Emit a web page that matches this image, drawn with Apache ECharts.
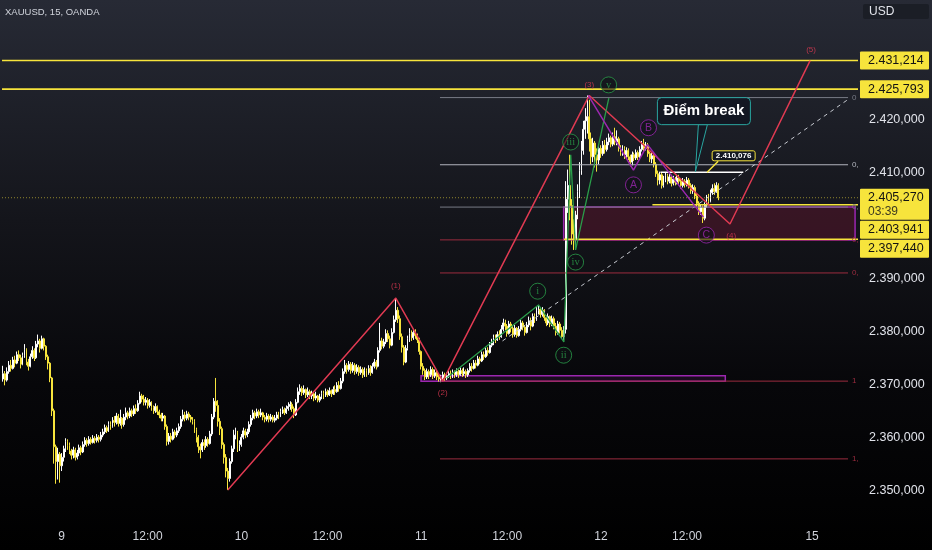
<!DOCTYPE html>
<html>
<head>
<meta charset="utf-8">
<title>XAUUSD, 15, OANDA</title>
<script src="https://cdn.jsdelivr.net/npm/echarts/dist/echarts.min.js"></script>
<style>
    html, body { margin: 0; padding: 0; background: #000; }
    #chart {
        width: 932px;
        height: 550px;
        background: linear-gradient(to bottom, #272a35 0%, #14151b 40%, #07070a 70%, #000 100%);
    }
</style>
</head>
<body>
<div id="chart"></div>
<script>
const FONT = '"Liberation Sans", "DejaVu Sans", Arial, sans-serif';

// 15 phút, múi giờ UTC+7: [ngày, phút bắt đầu, phút kết thúc]
const sessions = [[8, 990, 1440], [9, 0, 1440], [10, 0, 1440], [11, 0, 1440], [12, 0, 1680], [15, 300, 660]];

// mỗi nến: [close, low, high], open = close nến trước
const firstOpen = 2371.0;
const day8 = [
    [2372.0,2370.5,2373.5],[2370.8,2369.8,2372.5],[2372.4,2370.5,2373.2],[2373.6,2372.0,2374.4],[2373.0,2372.4,2374.6],[2374.6,2372.8,2375.2],[2374.0,2373.2,2375.4],[2375.6,2373.8,2376.2],[2375.0,2374.4,2376.4],[2373.8,2373.0,2375.6],
    [2375.4,2373.6,2376.0],[2376.6,2375.0,2377.6],[2374.2,2373.6,2376.8],[2373.4,2372.6,2374.8],[2375.2,2373.2,2375.8],[2376.4,2374.8,2377.2],[2375.0,2374.4,2376.8],[2377.6,2374.8,2378.2],[2378.2,2377.0,2379.4],[2376.8,2376.0,2378.6],
    [2378.6,2376.6,2379.2],[2377.2,2376.4,2378.8],[2375.2,2374.6,2377.4],[2374.0,2372.8,2375.6],[2371.2,2370.4,2374.2],[2365.0,2364.0,2371.4],[2358.2,2355.0,2365.4],[2355.4,2351.2,2358.6],[2356.8,2352.0,2358.0],[2354.6,2351.4,2357.2]
];
const day9 = [
    [2356.2,2353.6,2357.0],[2357.8,2355.4,2358.4],[2359.2,2357.2,2359.8],[2358.4,2357.6,2359.6],[2357.4,2356.8,2359.0],[2356.6,2355.8,2357.8],[2357.6,2356.0,2358.2],[2356.2,2355.6,2358.0],[2357.0,2355.8,2357.6],[2358.0,2356.4,2358.6],
    [2357.2,2356.6,2358.4],[2358.6,2357.0,2359.2],[2359.4,2358.2,2360.0],[2358.8,2358.2,2359.8],[2359.6,2358.4,2360.2],[2359.0,2358.6,2360.0],[2359.8,2358.8,2360.4],[2359.4,2358.8,2360.2],[2360.0,2359.0,2360.6],[2359.6,2359.0,2360.4],
    [2360.4,2359.2,2361.0],[2361.0,2360.0,2361.6],[2361.8,2360.6,2362.4],[2361.2,2360.8,2362.2],[2362.4,2361.0,2363.0],[2362.0,2361.4,2363.0],[2363.2,2361.8,2363.8],[2362.8,2362.0,2364.0],[2364.0,2362.4,2364.6],[2362.6,2362.0,2364.4],
    [2363.6,2362.2,2365.2],[2362.4,2361.6,2363.8],[2363.8,2362.0,2364.4],[2364.6,2363.2,2365.6],[2364.0,2363.4,2365.0],[2365.0,2363.6,2365.6],[2364.4,2363.8,2365.4],[2365.4,2364.0,2366.0],[2365.0,2364.4,2366.2],[2366.4,2364.8,2367.0],
    [2367.8,2366.2,2368.6],[2367.2,2366.6,2368.2],[2366.6,2366.0,2368.0],[2367.0,2366.0,2367.6],[2366.0,2365.4,2367.4],[2366.6,2365.6,2367.2],[2365.6,2365.0,2366.8],[2365.0,2364.4,2366.0],[2365.8,2364.6,2366.4],[2364.8,2364.2,2366.0],
    [2364.2,2363.6,2365.2],[2363.6,2363.0,2364.6],[2364.0,2363.0,2364.6],[2362.0,2361.4,2364.2],[2359.2,2358.4,2362.4],[2360.2,2358.6,2360.8],[2359.6,2359.0,2360.8],[2361.0,2359.4,2361.6],[2360.4,2359.8,2361.4],[2361.2,2360.0,2361.8],
    [2362.0,2360.8,2362.6],[2363.4,2361.6,2364.0],[2364.2,2363.0,2365.2],[2363.6,2363.0,2364.8],[2364.4,2363.2,2365.0],[2363.8,2363.2,2364.8],[2363.4,2362.8,2364.2],[2363.0,2362.4,2363.8],[2361.4,2360.8,2363.4],[2360.0,2359.0,2361.8],
    [2358.2,2357.0,2360.4],[2357.6,2356.0,2358.8],[2359.0,2357.2,2359.6],[2358.4,2357.6,2359.6],[2359.6,2358.0,2360.2],[2358.8,2358.2,2360.0],[2360.6,2358.6,2361.2],[2363.8,2360.2,2364.4],[2366.8,2363.4,2367.4],[2366.0,2364.8,2371.2],
    [2363.0,2362.0,2367.0],[2361.6,2360.4,2363.6],[2358.6,2357.8,2362.0],[2356.2,2355.0,2359.0],[2353.6,2352.4,2356.8],[2352.2,2350.0,2354.2],[2355.4,2351.6,2356.0],[2357.8,2355.0,2358.4],[2360.4,2357.2,2361.4],[2360.8,2359.6,2361.8],
    [2357.8,2357.2,2361.2],[2358.6,2357.4,2359.4]
];
const day10 = [
    [2360.0,2358.2,2360.6],[2361.2,2359.6,2361.8],[2360.4,2359.8,2361.6],[2361.0,2360.0,2361.6],[2362.4,2360.6,2363.0],[2363.6,2362.0,2364.2],[2364.6,2363.2,2365.2],[2364.0,2363.4,2365.0],[2364.8,2363.6,2365.4],[2364.2,2363.6,2365.2],
    [2364.6,2363.8,2365.4],[2363.8,2363.2,2364.8],[2363.4,2362.8,2364.2],[2364.0,2363.0,2364.6],[2363.4,2362.8,2364.4],[2363.8,2363.0,2364.4],[2363.2,2362.8,2364.2],[2363.6,2362.8,2364.2],[2364.2,2363.2,2364.8],[2364.0,2363.4,2364.8],
    [2364.8,2363.8,2365.4],[2365.2,2364.4,2365.8],[2364.6,2364.2,2365.6],[2365.4,2364.4,2366.0],[2365.8,2365.0,2366.6],[2366.2,2365.2,2366.8],[2365.4,2364.8,2366.6],[2364.2,2363.6,2365.8],[2366.6,2364.0,2367.2],[2368.6,2366.4,2369.4],
    [2369.2,2368.0,2370.0],[2368.4,2367.8,2369.6],[2369.0,2368.0,2369.8],[2368.0,2367.4,2369.2],[2368.6,2367.6,2369.4],[2367.8,2367.2,2369.0],[2368.2,2367.2,2368.8],[2367.4,2366.8,2368.4],[2367.8,2367.0,2368.6],[2367.0,2366.6,2368.0],
    [2367.6,2366.6,2368.2],[2368.2,2367.2,2368.8],[2367.8,2367.2,2368.8],[2368.6,2367.6,2369.2],[2368.0,2367.6,2369.0],[2368.8,2367.8,2369.4],[2368.2,2367.6,2369.0],[2369.0,2368.0,2369.6],[2368.6,2368.0,2369.8],[2369.8,2368.4,2370.4],
    [2369.2,2368.6,2370.6],[2370.6,2369.0,2371.2],[2372.4,2370.2,2373.0],[2373.6,2372.0,2374.6],[2372.8,2372.0,2374.0],[2373.8,2372.4,2374.4],[2372.6,2372.0,2374.2],[2373.6,2372.2,2374.2],[2372.4,2371.8,2374.0],[2373.2,2372.0,2373.8],
    [2372.2,2371.6,2373.6],[2372.8,2371.8,2373.4],[2371.8,2371.2,2373.2],[2372.6,2371.4,2373.2],[2372.0,2371.4,2373.0],[2373.0,2371.8,2373.6],[2372.2,2371.6,2373.6],[2373.4,2372.0,2374.0],[2374.2,2373.0,2374.8],[2373.4,2372.8,2374.6],
    [2376.4,2373.2,2377.0],[2378.2,2376.0,2381.6],[2377.2,2376.6,2378.8],[2378.0,2376.8,2378.6],[2379.6,2377.6,2380.4],[2378.6,2378.0,2380.2],[2377.4,2376.8,2379.2],[2379.8,2377.2,2380.6],[2382.2,2379.6,2383.0],[2384.0,2381.8,2386.3],
    [2382.4,2381.6,2384.6],[2379.0,2378.4,2383.0],[2377.0,2376.0,2379.6],[2374.2,2373.6,2377.4],[2376.8,2374.0,2377.4],[2378.6,2376.4,2379.2],[2379.6,2378.0,2380.6],[2378.8,2378.2,2380.2],[2379.8,2378.4,2380.4],[2379.2,2378.6,2380.4],
    [2378.4,2377.8,2379.6],[2376.2,2375.6,2378.8]
];
const day11 = [
    [2373.4,2372.8,2376.4],[2372.6,2371.8,2374.0],[2371.4,2370.8,2373.0],[2372.4,2371.0,2373.0],[2371.8,2371.0,2372.8],[2372.8,2371.4,2373.4],[2371.6,2371.0,2373.2],[2372.2,2371.2,2372.8],[2371.4,2370.8,2372.6],[2371.0,2370.5,2372.0],
    [2371.2,2370.4,2371.8],[2371.8,2370.6,2372.4],[2371.2,2370.6,2372.2],[2371.6,2370.8,2372.2],[2372.0,2371.2,2372.6],[2371.6,2371.0,2372.6],[2372.2,2371.2,2372.8],[2371.8,2371.2,2372.6],[2372.4,2371.4,2373.0],[2371.8,2371.2,2372.8],
    [2372.6,2371.6,2373.2],[2372.0,2371.4,2373.0],[2372.4,2371.6,2373.2],[2371.8,2371.2,2372.8],[2372.6,2371.4,2373.0],[2373.4,2372.2,2374.0],[2373.0,2372.4,2374.0],[2374.0,2372.8,2374.6],[2373.6,2373.0,2374.6],[2374.8,2373.4,2375.4],
    [2374.4,2373.8,2375.2],[2375.6,2374.2,2376.2],[2375.2,2374.6,2376.2],[2376.4,2375.0,2377.0],[2376.0,2375.4,2377.0],[2377.4,2375.8,2378.0],[2377.8,2377.0,2378.6],[2378.8,2377.4,2379.4],[2378.4,2377.8,2379.4],[2379.4,2378.2,2380.0],
    [2379.0,2378.4,2380.2],[2380.4,2378.8,2381.2],[2381.6,2380.0,2382.4],[2381.0,2380.2,2382.2],[2379.6,2379.0,2381.4],[2381.4,2379.4,2382.0],[2380.6,2379.8,2381.8],[2379.4,2378.8,2381.0],[2380.6,2379.0,2381.2],[2379.2,2378.8,2380.8],
    [2380.4,2379.0,2381.0],[2381.6,2380.0,2382.2],[2380.8,2380.2,2382.0],[2379.8,2379.2,2381.2],[2381.2,2379.6,2381.8],[2382.0,2380.8,2382.8],[2381.0,2380.2,2382.6],[2382.8,2380.8,2383.4],[2382.2,2381.6,2383.4],[2384.0,2382.0,2384.6],
    [2384.2,2383.2,2385.0],[2383.2,2382.6,2384.6],[2384.0,2382.8,2384.6],[2382.6,2382.0,2384.2],[2381.6,2381.0,2383.0],[2382.8,2381.2,2383.4],[2381.4,2380.8,2383.0],[2382.4,2381.0,2383.0],[2381.0,2380.4,2382.8],[2379.8,2379.2,2381.6],
    [2381.4,2379.4,2382.0],[2380.2,2379.6,2381.8],[2379.0,2378.6,2380.8],[2380.4,2378.0,2381.0],[2405.0,2379.6,2408.4],[2407.6,2402.4,2410.6],[2403.8,2401.0,2413.4],[2398.4,2396.4,2405.0],[2397.4,2395.4,2401.2],[2402.0,2396.2,2402.8],
    [2406.4,2401.2,2407.8],[2410.4,2405.2,2412.0],[2414.2,2409.6,2416.0],[2418.2,2413.4,2419.8],[2419.8,2416.4,2422.2],[2420.6,2417.4,2424.6],[2416.4,2414.0,2423.8],[2413.0,2411.6,2417.6],[2415.6,2412.0,2416.6],[2413.4,2411.0,2416.0],
    [2412.4,2410.2,2414.6],[2414.6,2411.6,2415.4]
];
const day12 = [
    [2413.6,2412.8,2415.2],[2415.2,2413.2,2416.0],[2414.4,2413.6,2416.2],[2415.8,2414.0,2416.6],[2416.6,2415.2,2417.4],[2415.4,2414.8,2417.0],[2416.8,2415.0,2417.6],[2415.8,2415.2,2418.5],[2416.4,2415.2,2418.0],[2414.6,2414.0,2416.8],
    [2413.8,2413.2,2415.2],[2414.6,2413.2,2415.2],[2413.4,2412.6,2415.0],[2414.2,2412.8,2414.8],[2413.0,2412.4,2414.6],[2412.0,2411.2,2413.4],[2413.4,2411.4,2414.0],[2412.8,2412.2,2413.8],[2413.8,2412.4,2414.4],[2413.0,2412.4,2414.2],
    [2414.4,2412.8,2415.0],[2415.4,2414.0,2416.0],[2414.6,2414.0,2416.4],[2415.2,2414.2,2415.8],[2413.6,2413.0,2415.6],[2412.6,2412.0,2414.0],[2413.2,2411.8,2413.8],[2411.6,2411.0,2413.6],[2409.8,2409.2,2412.0],[2408.6,2407.6,2410.4],
    [2409.6,2407.8,2410.2],[2407.6,2407.0,2410.0],[2408.8,2407.2,2409.4],[2409.4,2408.2,2410.0],[2408.4,2407.8,2409.8],[2409.2,2408.0,2409.8],[2408.0,2407.4,2409.6],[2408.8,2407.6,2409.4],[2408.2,2407.6,2409.2],[2409.0,2407.8,2409.6],
    [2408.4,2407.8,2409.6],[2407.6,2407.0,2408.8],[2408.4,2407.2,2409.0],[2407.8,2407.2,2408.8],[2408.6,2407.4,2409.2],[2407.6,2407.0,2409.0],[2406.6,2406.0,2408.0],[2407.2,2406.0,2407.8],[2405.6,2405.0,2407.6],[2404.2,2403.6,2406.0],
    [2402.6,2402.0,2404.6],[2403.4,2402.0,2404.0],[2401.4,2400.5,2403.8],[2403.8,2401.0,2404.4],[2405.2,2403.4,2405.8],[2404.6,2404.0,2406.0],[2406.2,2404.4,2406.8],[2407.0,2405.8,2407.8],[2406.4,2405.8,2408.0],[2407.6,2406.2,2408.2],
    [2405.27,2404.8,2408.0]
];

// các mức giá trên trục phải
const yellowLevels = [2431.214, 2425.793];
const zoneLevels = [2403.941, 2397.44];
const lastPrice = 2405.27;
const countdown = '03:39';
const breakLevel = 2410.076;

// fibo: [giá, nhãn, màu]
const fibLevels = [
    [2424.2, '0', '#787b86'],
    [2411.5, '0,', '#b2b5be'],
    [2403.5, '0,', '#787b86'],
    [2397.3, '0,', '#9b2c3f'],
    [2391.05, '0,', '#9b2c3f'],
    [2370.6, '1', '#9b2c3f'],
    [2355.9, '1,', '#9b2c3f']
];
const fibRange = [223.6, 432.4];

// sóng Elliott, toạ độ [chỉ số nến, giá]
const waveMain = [[115, 2350.0], [201, 2386.3], [225, 2370.6], [300, 2424.6], [372, 2400.3], [413, 2431.2]];
const waveMainText = [['(1)', 201, 2388.6], ['(2)', 225, 2368.3], ['(3)', 300, 2426.7], ['(4)', 372.6, 2398.0], ['(5)', 413.5, 2433.3]];
const waveSub = [[227, 2371.2], [274, 2385.0], [287, 2378.0], [290.5, 2413.4], [293, 2395.4], [310, 2424.1]];
const waveSubText = [['i', 273.6, 2387.6], ['ii', 286.9, 2375.5], ['iii', 290.5, 2415.8], ['iv', 293, 2393.1], ['v', 309.9, 2426.6]];
const waveAbc = [[299.5, 2424.6], [322.6, 2410.5], [329.8, 2415.3], [358.4, 2401.6]];
const waveAbcText = [['A', 322.6, 2407.7], ['B', 330.3, 2418.5], ['C', 359.9, 2398.2]];
const trendDash = [[255.6, 2378.2], [433.4, 2424.1]];
const zoneBox = [286.9, 436, 2397.3, 2403.5];
const baseBox = [213.9, 369.6, 2370.6, 2371.6];
const breakSpan = [336.4, 378.8];
const breakNote = ['Điểm break', 354.3, 2410.2];
const breakTag = [360.3, breakLevel];

// trục thời gian
const times = [];
const tickText = {};
sessions.forEach(function (s, k) {
    for (let m = s[1]; m < s[2]; m += 15) {
        const mm = m % 1440;
        if (m < 1440 && mm >= 240 && mm < 300) continue;
        const key = s[0] + ' ' + m;
        if (m === s[1] && k > 0) {
            tickText[key] = String(s[0]);
        } else if (m === 720) {
            tickText[key] = '12:00';
        }
        times.push(key);
    }
});

const bars = [].concat(day8, day9, day10, day11, day12);
let prevClose = firstOpen;
const ohlc = bars.map(function (b) {
    const o = prevClose;
    prevClose = b[0];
    return [o, b[0], Math.min(b[1], o, b[0]), Math.max(b[2], o, b[0])];
});

function fmtPrice(p) {
    const s = p.toFixed(3).split('.');
    return s[0].slice(0, 1) + '.' + s[0].slice(1) + ',' + s[1];
}

const xEnd = times.length - 0.5;
const YELLOW = '#f7e43c';
const RED = '#e03a52';
const GREEN = '#2a9d4a';
const PURPLE = '#9c27b0';

function seg(data, color, width, type, z) {
    return {
        type: 'line',
        xAxisIndex: 1,
        yAxisIndex: 0,
        data: data,
        symbol: 'none',
        silent: true,
        z: z || 3,
        lineStyle: {color: color, width: width, type: type || 'solid'}
    };
}

function textMarks(list, color, ring, family) {
    return {
        type: 'scatter',
        xAxisIndex: 1,
        yAxisIndex: 0,
        silent: true,
        z: 5,
        symbol: 'circle',
        symbolSize: ring ? 16 : 1,
        itemStyle: ring ? {color: 'rgba(15,16,22,0.75)', borderColor: color, borderWidth: 1} : {color: 'rgba(0,0,0,0)'},
        label: {
            show: true, position: 'inside', formatter: '{b}', color: color,
            fontSize: ring ? 10.5 : 8, fontFamily: family || FONT
        },
        data: list.map(function (t) {
            return {name: t[0], value: [t[1], t[2]]};
        })
    };
}

const series = [{
    type: 'candlestick',
    xAxisIndex: 0,
    yAxisIndex: 0,
    data: ohlc,
    barWidth: '70%',
    z: 2,
    itemStyle: {
        color: '#ffffff',
        color0: YELLOW,
        borderColor: '#ffffff',
        borderColor0: YELLOW,
        borderWidth: 1
    }
}];

// đường xu hướng nét đứt
series.push(seg(trendDash, '#c8cbd2', 1, [4, 4]));

// hai hộp vùng giá
series.push({
    type: 'line',
    xAxisIndex: 1,
    yAxisIndex: 0,
    data: [],
    silent: true,
    markArea: {
        silent: true,
        data: [
            [{coord: [zoneBox[0], zoneBox[3]], itemStyle: {color: 'rgba(105,22,48,0.42)', borderColor: PURPLE, borderWidth: 1.5}},
                {coord: [zoneBox[1], zoneBox[2]]}],
            [{coord: [baseBox[0], baseBox[3]], itemStyle: {color: 'rgba(156,39,176,0.12)', borderColor: PURPLE, borderWidth: 1.5}},
                {coord: [baseBox[1], baseBox[2]]}]
        ]
    }
});

// fibo
fibLevels.forEach(function (f) {
    const s = seg([[fibRange[0], f[0]], [fibRange[1], f[0]]], f[2], 1);
    s.endLabel = {show: true, formatter: f[1], color: f[2], fontSize: 8, distance: 4};
    series.push(s);
});

// các mức vàng
yellowLevels.forEach(function (p) {
    series.push(seg([[-0.5, p], [xEnd, p]], YELLOW, 1.6));
});
series.push(seg([[332.3, zoneLevels[0]], [xEnd, zoneLevels[0]]], YELLOW, 1.5));
series.push(seg([[287, zoneLevels[1]], [xEnd, zoneLevels[1]]], YELLOW, 1.5));
series.push(seg([[-0.5, lastPrice], [xEnd, lastPrice]], 'rgba(247,228,60,0.55)', 1, [1, 2]));
series.push(seg([[breakSpan[0], breakLevel], [breakSpan[1], breakLevel]], '#ffffff', 1.5));

// sóng
series.push(seg(waveMain, RED, 1.5, 'solid', 4));
series.push(seg(waveSub, GREEN, 1.3, 'solid', 4));
series.push(seg(waveAbc, PURPLE, 1.5, 'solid', 4));
series.push(textMarks(waveMainText, RED, false));
series.push(textMarks(waveSubText, GREEN, true, '"Liberation Serif", "DejaVu Serif", serif'));
series.push(textMarks(waveAbcText, PURPLE, true));

const option = {
    animation: false,
    backgroundColor: 'transparent',
    textStyle: {fontFamily: FONT},
    grid: {left: 0, right: 74, top: 14, bottom: 7},
    xAxis: [{
        type: 'category',
        data: times,
        boundaryGap: true,
        axisLine: {show: false},
        axisTick: {show: false},
        splitLine: {show: false},
        axisLabel: {
            inside: true,
            interval: 0,
            margin: 0,
            color: '#d1d4dc',
            fontSize: 12,
            formatter: function (v) {
                return tickText[v] || '';
            }
        }
    }, {
        type: 'value',
        min: -0.5,
        max: xEnd,
        show: false
    }],
    yAxis: {
        type: 'value',
        position: 'right',
        min: 2340,
        max: 2440,
        interval: 10,
        axisLine: {show: false},
        axisTick: {show: false},
        splitLine: {show: false},
        axisLabel: {
            margin: 11,
            color: '#e1e3ea',
            fontSize: 12.5,
            formatter: function (v) {
                if (v === 2340 || v === 2400 || v === 2430 || v === 2440) return '';
                const s = String(v);
                return s.slice(0, 1) + '.' + s.slice(1) + ',000';
            }
        }
    },
    series: series
};

const chart = echarts.init(document.getElementById('chart'));
chart.setOption(option);

function toPx(i, p) {
    return chart.convertToPixel({seriesIndex: 1}, [i, p]);
}

const axisX = chart.getWidth() - 74;
const graphics = [];

// tiêu đề
graphics.push({
    type: 'text', z: 100,
    style: {x: 5, y: 12, text: 'XAUUSD, 15, OANDA', fill: '#d1d4dc', font: '9.5px ' + FONT, verticalAlign: 'middle'}
});
// ô USD
graphics.push({
    type: 'rect', z: 100,
    shape: {x: axisX + 5, y: 4, width: 66, height: 15, r: 2},
    style: {fill: '#1b1e26'}
});
graphics.push({
    type: 'text', z: 101,
    style: {x: axisX + 11, y: 11.5, text: 'USD', fill: '#e1e3ea', font: '12px ' + FONT, verticalAlign: 'middle'}
});

// nhãn giá trên trục phải, xếp chồng khi trùng nhau
const tags = yellowLevels.map(function (p) { return {p: p}; })
    .concat([{p: lastPrice, sub: countdown}])
    .concat(zoneLevels.map(function (p) { return {p: p}; }));
tags.forEach(function (t) {
    t.y = toPx(0, t.p)[1];
    t.h = t.sub ? 31 : 18;
});
tags.sort(function (a, b) { return a.y - b.y; });
let lastBottom = -1000;
tags.forEach(function (t) {
    const top = Math.max(t.y - 9, lastBottom + 1);
    lastBottom = top + t.h;
    graphics.push({
        type: 'rect', z: 110,
        shape: {x: axisX + 2, y: top, width: 69, height: t.h, r: 1},
        style: {fill: YELLOW}
    });
    graphics.push({
        type: 'text', z: 111,
        style: {x: axisX + 10, y: top + 9, text: fmtPrice(t.p), fill: '#131313', font: '12.5px ' + FONT, verticalAlign: 'middle'}
    });
    if (t.sub) {
        graphics.push({
            type: 'text', z: 111,
            style: {x: axisX + 10, y: top + 23, text: t.sub, fill: '#3d3a20', font: '12px ' + FONT, verticalAlign: 'middle'}
        });
    }
});

// nhãn Điểm break
const tip = toPx(breakNote[1], breakNote[2]);
graphics.push({
    type: 'polygon', z: 120,
    shape: {points: [[tip[0] + 3, tip[1] - 47], [tip[0], tip[1]], [tip[0] + 12, tip[1] - 47]]},
    style: {fill: '#131722', stroke: '#2aa6a0', lineWidth: 1}
});
graphics.push({
    type: 'rect', z: 121,
    shape: {x: tip[0] - 38, y: tip[1] - 74, width: 93, height: 27, r: 4},
    style: {fill: '#131722', stroke: '#2aa6a0', lineWidth: 1}
});
graphics.push({
    type: 'text', z: 122,
    style: {x: tip[0] + 8.5, y: tip[1] - 60.5, text: breakNote[0], fill: '#ffffff', font: 'bold 15px ' + FONT, align: 'center', verticalAlign: 'middle'}
});

// nhãn 2.410,076
const anc = toPx(breakTag[0], breakTag[1]);
graphics.push({
    type: 'line', z: 120,
    shape: {x1: anc[0], y1: anc[1], x2: anc[0] + 11, y2: anc[1] - 11},
    style: {stroke: YELLOW, lineWidth: 1.5}
});
graphics.push({
    type: 'rect', z: 121,
    shape: {x: anc[0] + 5, y: anc[1] - 21.5, width: 43, height: 10, r: 2},
    style: {fill: '#131722', stroke: YELLOW, lineWidth: 1}
});
graphics.push({
    type: 'text', z: 122,
    style: {x: anc[0] + 26.5, y: anc[1] - 16.5, text: fmtPrice(breakLevel), fill: '#ffffff', font: 'bold 8px ' + FONT, align: 'center', verticalAlign: 'middle'}
});

chart.setOption({graphic: graphics});
</script>
</body>
</html>
